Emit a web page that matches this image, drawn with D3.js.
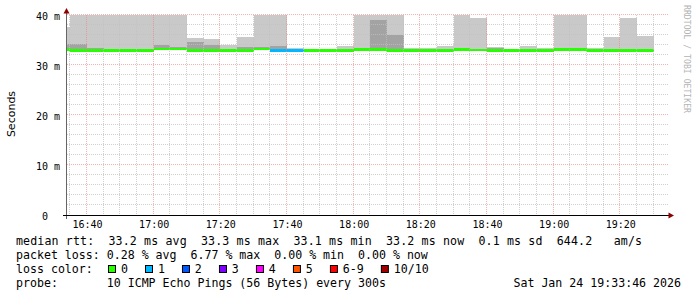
<!DOCTYPE html>
<html>
<head>
<meta charset="utf-8">
<script src="https://cdn.jsdelivr.net/npm/d3@7"></script>
<style>
  body { margin: 0; background: #fff; }
  svg text { font-family: "DejaVu Sans Mono", monospace; white-space: pre; }
</style>
</head>
<body>
<script>
// 5 minute steps, start of each interval
const startTimes = ['16:30','16:35','16:40','16:45','16:50','16:55','17:00','17:05','17:10','17:15',
  '17:20','17:25','17:30','17:35','17:40','17:45','17:50','17:55','18:00','18:05',
  '18:10','18:15','18:20','18:25','18:30','18:35','18:40','18:45','18:50','18:55',
  '19:00','19:05','19:10','19:15','19:20','19:25'];
// outer smoke (ms, clipped at 40)
const smokeTop = [37.7, 40, 40, 40, 40, 40, 40, 40, 35.5, 35.2,
  34.0, 35.7, 40, 40, 33.5, 33.2, 33.2, 33.9, 40, 40,
  40, 33.5, 33.5, 33.9, 40, 39.5, 33.6, 33.3, 33.9, 33.5,
  40, 40, 33.5, 35.7, 39.5, 35.9];
// inner (darker) smoke
const smokeInner = [34.3, 34.3, 33.5, 33.3, 33.3, 33.3, 34.1, 33.7, 34.7, 34.1,
  33.2, 33.7, 33.6, 33.8, 33.2, 33.2, 33.2, 33.2, 33.5, 39.0,
  36.0, 33.2, 33.2, 33.2, 33.4, 33.3, 33.45, 33.2, 33.2, 33.2,
  33.4, 33.4, 33.2, 33.2, 33.2, 33.2];
const median = [33.45, 33.2, 33.2, 33.2, 33.2, 33.2, 33.5, 33.5, 33.2, 33.2,
  33.2, 33.2, 33.5, 33.2, 33.2, 33.2, 33.2, 33.2, 33.45, 33.45,
  33.2, 33.2, 33.2, 33.2, 33.35, 33.3, 33.2, 33.2, 33.2, 33.2,
  33.35, 33.35, 33.2, 33.2, 33.2, 33.2];
const lossCount = [0,0,0,0,0,0,0,0,0,0, 0,0,0,1,1,0,0,0,0,0, 0,0,0,0,0,0,0,0,0,0, 0,0,0,0,0,0];

const yTicks = [0, 10, 20, 30, 40];
const yTickLabels = ['0  ', '10 m', '20 m', '30 m', '40 m'];
const lossLabels = ['0', '1', '2', '3', '4', '5', '6-9', '10/10'];
const lossColors = ['#26ff00', '#00b8ff', '#0059ff', '#7e00ff', '#ff00ff', '#ff5500', '#ff0000', '#a00000'];
const legendLines = [
  'median rtt:  33.2 ms avg  33.3 ms max  33.1 ms min  33.2 ms now  0.1 ms sd  644.2   am/s',
  'packet loss: 0.28 % avg  6.77 % max  0.00 % min  0.00 % now',
  'loss color:',
  'probe:       10 ICMP Echo Pings (56 Bytes) every 300s'
];
const stampText = 'Sat Jan 24 19:33:46 2026';

const parseTime = d3.timeParse('%Y-%m-%d %H:%M');
const day = '2026-01-24 ';
const times = startTimes.map(s => parseTime(day + s));

const W = 697, H = 297;
const plot = { left: 67, right: 667, top: 15, bottom: 215 };

const x = d3.scaleTime()
  .domain([parseTime(day + '16:34'), parseTime(day + '19:34')])
  .range([plot.left, plot.right]);
const y = d3.scaleLinear().domain([0, 40]).range([plot.bottom, plot.top]).clamp(true);

const svg = d3.select('body').append('svg').attr('width', W).attr('height', H);

svg.append('clipPath').attr('id', 'plotclip')
  .append('rect').attr('x', plot.left).attr('y', plot.top)
  .attr('width', plot.right - plot.left).attr('height', plot.bottom - plot.top);

const data = times.map((t, i) => ({
  t0: t, t1: d3.timeMinute.offset(t, 5),
  top: smokeTop[i], inner: smokeInner[i], med: median[i], loss: lossCount[i]
}));

const dataG = svg.append('g').attr('clip-path', 'url(#plotclip)').attr('shape-rendering', 'crispEdges');

// smoke
dataG.selectAll('rect.outer').data(data).join('rect')
  .attr('class', 'outer')
  .attr('x', d => x(d.t0)).attr('width', d => x(d.t1) - x(d.t0))
  .attr('y', d => y(d.top)).attr('height', d => y(d.med - 0.3) - y(d.top))
  .attr('fill', '#c9c9c9');
dataG.selectAll('rect.inner').data(data).join('rect')
  .attr('class', 'inner')
  .attr('x', d => x(d.t0)).attr('width', d => x(d.t1) - x(d.t0))
  .attr('y', d => y(d.inner)).attr('height', d => Math.max(0, y(d.med) - y(d.inner)))
  .attr('fill', '#a3a3a3');
// median, coloured by loss
dataG.selectAll('rect.med').data(data).join('rect')
  .attr('class', 'med')
  .attr('x', d => x(d.t0)).attr('width', d => x(d.t1) - x(d.t0))
  .attr('y', d => y(d.med)).attr('height', d => y(d.med - 0.55) - y(d.med))
  .attr('fill', d => lossColors[d.loss]);

// grid on top of data
const gridG = svg.append('g');
const majorT = x.ticks(d3.timeMinute.every(20));
const minorT = x.ticks(d3.timeMinute.every(5)).filter(t => t.getMinutes() % 20 !== 0);
const px = v => Math.round(v) - 0.5;

gridG.selectAll('line.vmin').data(minorT).join('line')
  .attr('x1', d => px(x(d))).attr('x2', d => px(x(d)))
  .attr('y1', plot.top).attr('y2', plot.bottom)
  .attr('stroke', 'rgba(192,192,192,0.75)').attr('stroke-dasharray', '1,1');
const yMinor = d3.range(2, 40, 2).filter(v => v % 10 !== 0);
gridG.selectAll('line.hmin').data(yMinor).join('line')
  .attr('x1', plot.left).attr('x2', plot.right + 1)
  .attr('y1', d => px(y(d))).attr('y2', d => px(y(d)))
  .attr('stroke', 'rgba(192,192,192,0.75)').attr('stroke-dasharray', '1,1');
gridG.selectAll('line.vmaj').data(majorT).join('line')
  .attr('x1', d => px(x(d))).attr('x2', d => px(x(d)))
  .attr('y1', plot.top).attr('y2', plot.bottom)
  .attr('stroke', 'rgba(240,128,128,0.6)').attr('stroke-dasharray', '1,1');
gridG.selectAll('line.hmaj').data(yTicks.filter(v => v > 0)).join('line')
  .attr('x1', plot.left).attr('x2', plot.right + 1)
  .attr('y1', d => px(y(d))).attr('y2', d => px(y(d)))
  .attr('stroke', 'rgba(240,128,128,0.6)').attr('stroke-dasharray', '1,1');

// axes
const xAxis = d3.axisBottom(x).tickValues(majorT).tickFormat(d3.timeFormat('%H:%M')).tickSize(0).tickPadding(6);
const yAxis = d3.axisLeft(y).tickValues(yTicks).tickFormat((d, i) => yTickLabels[i]).tickSize(0).tickPadding(7);

const xg = svg.append('g').attr('transform', 'translate(0,' + plot.bottom + ')').call(xAxis);
xg.select('.domain').remove();
xg.selectAll('text').attr('font-family', '"DejaVu Sans Mono", monospace').attr('font-size', 10).attr('fill', '#000');

const yg = svg.append('g').attr('transform', 'translate(' + plot.left + ',0)').call(yAxis);
yg.select('.domain').remove();
yg.selectAll('text').attr('font-family', '"DejaVu Sans Mono", monospace').attr('font-size', 10).attr('fill', '#000').attr('dy', '0.4em');

svg.append('line').attr('x1', 66.5).attr('x2', 66.5).attr('y1', 219).attr('y2', 12)
  .attr('stroke', '#666');
svg.append('line').attr('x1', 63).attr('x2', 669).attr('y1', 215.5).attr('y2', 215.5)
  .attr('stroke', '#000');
svg.append('path').attr('d', 'M66.5,8 L63.5,13.5 L69.5,13.5 Z').attr('fill', '#8b0000');
svg.append('path').attr('d', 'M674,215.5 L668.5,212.5 L668.5,218.5 Z').attr('fill', '#8b0000');

// titles
svg.append('text').attr('transform', 'translate(14.5,114) rotate(-90)')
  .attr('text-anchor', 'middle').style('font-family', '"DejaVu Sans", sans-serif')
  .attr('font-size', 11).attr('fill', '#000').text('Seconds');
svg.append('text').attr('transform', 'translate(684,5) rotate(90)')
  .attr('font-size', 8.5).attr('fill', '#b4b4b4')
  .attr('textLength', 108).attr('lengthAdjust', 'spacingAndGlyphs')
  .text('RRDTOOL / TOBI OETIKER');

// legend
const legendG = svg.append('g').attr('font-size', 11.6).attr('fill', '#000');
legendG.selectAll('text.line').data(legendLines).join('text')
  .attr('class', 'line')
  .attr('x', 16).attr('y', (d, i) => 245 + i * 14)
  .text(d => d);
// first legend row is spread a little wider in the original
legendG.select('text.line').attr('textLength', 626).attr('lengthAdjust', 'spacing');
legendG.append('text').attr('x', 681).attr('y', 245 + 3 * 14)
  .attr('text-anchor', 'end').text(stampText);

let bx = 108.5;
lossLabels.forEach((lab, i) => {
  legendG.append('rect').attr('x', bx).attr('y', 265.5).attr('width', 7).attr('height', 7)
    .attr('fill', lossColors[i]).attr('stroke', '#000');
  const t = legendG.append('text').attr('x', bx + 12.4).attr('y', 273).text(lab);
  bx = bx + 12.4 + t.node().getComputedTextLength() + 17.6;
});
</script>
</body>
</html>
